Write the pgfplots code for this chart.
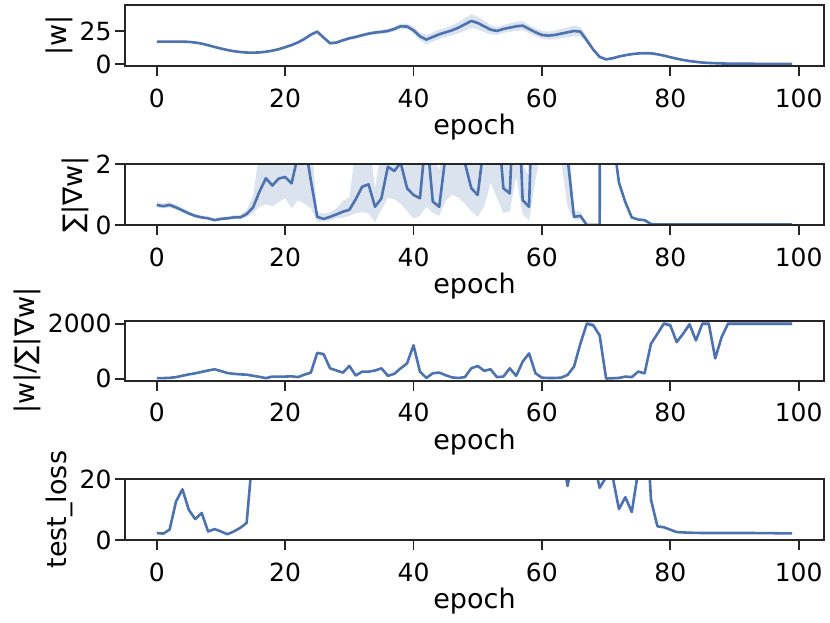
\documentclass[border=0pt]{standalone}
\usepackage{fontspec}
\setmainfont{DejaVu Sans}
\usepackage{pgfplots}
\pgfplotsset{compat=1.18}
\usepackage{pgfplotstable}
\definecolor{sblue}{HTML}{4C72B0}
\definecolor{frame}{HTML}{262626}

\pgfplotstableread{
e v d
0 17.0 0.7
1 17.0 0.7
2 17.0 0.7
3 17.0 0.7
4 17.0 0.7
5 16.8 0.7
6 16.3 0.7
7 15.5 0.7
8 14.3 0.7
9 13.0 0.7
10 11.8 0.7
11 10.7 0.7
12 9.8 0.7
13 9.2 0.7
14 8.8 0.7
15 8.7 0.7
16 8.9 0.7
17 9.4 0.7
18 10.2 0.7
19 11.3 0.8
20 12.8 1.0
21 14.4 1.0
22 16.4 1.0
23 19.0 1.2
24 22.2 1.2
25 24.5 1.2
26 20.0 1.2
27 15.8 1.2
28 16.3 1.2
29 18.0 1.2
30 19.5 1.2
31 20.5 1.3
32 21.8 1.3
33 23.0 1.4
34 23.8 1.5
35 24.3 1.5
36 25.0 1.6
37 26.5 1.8
38 28.5 2.0
39 28.3 2.2
40 25.5 2.5
41 21.0 3.0
42 18.5 3.5
43 20.5 3.5
44 22.5 3.5
45 24.0 3.5
46 25.5 3.8
47 27.5 4.2
48 30.0 4.8
49 32.5 5.0
50 31.0 4.8
51 28.5 4.2
52 26.0 3.5
53 25.0 3.0
54 26.5 3.0
55 27.5 3.2
56 28.5 3.5
57 29.0 3.5
58 26.5 3.2
59 24.0 3.0
60 22.0 3.0
61 21.5 3.0
62 22.0 3.2
63 23.0 3.5
64 24.0 3.8
65 25.0 4.0
66 24.5 3.5
67 18.0 2.5
68 11.0 1.5
69 5.5 1.0
70 3.7 0.8
71 4.5 0.8
72 5.8 0.8
73 6.8 0.8
74 7.6 0.8
75 8.1 0.8
76 8.3 0.8
77 8.2 0.8
78 7.5 0.7
79 6.5 0.6
80 5.3 0.5
81 4.2 0.4
82 3.2 0.4
83 2.4 0.3
84 1.8 0.3
85 1.3 0.3
86 1.0 0.2
87 0.8 0.2
88 0.6 0.2
89 0.5 0.2
90 0.45 0.2
91 0.4 0.2
92 0.38 0.2
93 0.35 0.2
94 0.32 0.2
95 0.3 0.2
96 0.27 0.2
97 0.25 0.2
98 0.22 0.2
99 0.2 0.2
}\sone

\pgfplotstableread{
e v lo hi
0 0.66 0.58 0.76
1 0.62 0.55 0.72
2 0.66 0.58 0.76
3 0.58 0.50 0.66
4 0.48 0.41 0.56
5 0.38 0.32 0.45
6 0.30 0.25 0.36
7 0.25 0.21 0.30
8 0.22 0.18 0.27
9 0.16 0.13 0.21
10 0.20 0.16 0.26
11 0.22 0.17 0.28
12 0.25 0.19 0.32
13 0.25 0.19 0.33
14 0.36 0.26 0.50
15 0.58 0.40 0.95
16 1.10 0.60 2.40
17 1.54 0.68 3.0
18 1.30 0.62 2.8
19 1.53 0.75 3.0
20 1.58 0.88 3.0
21 1.37 0.55 3.0
22 2.30 0.82 4.0
23 2.80 0.70 5.0
24 1.47 0.55 3.0
25 0.27 0.10 0.40
26 0.20 0.12 0.38
27 0.27 0.15 0.42
28 0.35 0.22 0.55
29 0.44 0.25 0.80
30 0.50 0.30 0.90
31 0.85 0.38 2.5
32 1.26 0.42 3.0
33 1.34 0.38 3.0
34 0.60 0.10 1.2
35 0.88 0.50 2.5
36 1.92 0.90 3.0
37 1.78 0.85 3.0
38 2.05 0.70 3.0
39 1.21 0.45 2.8
40 0.99 0.22 2.6
41 0.88 0.30 2.4
42 3.10 0.60 4.0
43 0.77 0.40 2.4
44 0.60 0.30 1.8
45 2.30 0.80 4.0
46 3.0 1.0 4.0
47 3.0 0.9 4.0
48 2.05 0.70 3.5
49 1.21 0.45 3.0
50 0.99 0.27 2.6
51 2.7 0.6 4.0
52 3.0 1.4 4.0
53 3.8 0.9 5.0
54 1.21 0.40 2.4
55 1.04 0.45 2.2
56 6.0 1.6 8.0
57 0.82 0.35 2.0
58 0.60 0.15 1.6
59 7.6 1.5 10
60 8.0 2.5 10
61 8.0 3.0 10
62 8.0 3.0 10
63 2.5 2.1 4.0
64 2.2 0.6 3.5
65 0.27 0.18 0.45
66 0.30 0.18 0.45
67 0.0 0.0 0.02
68 0.0 0.0 0.02
69 0.0 0.0 0.02
70 100 100 100
71 3.0 3.0 3.0
72 1.40 1.35 1.45
73 0.75 0.70 0.80
74 0.25 0.22 0.28
75 0.18 0.16 0.20
76 0.16 0.14 0.18
77 0.03 0.02 0.04
78 0.02 0.01 0.03
79 0.02 0.01 0.03
80 0.02 0.01 0.03
81 0.02 0.01 0.03
82 0.02 0.01 0.03
83 0.02 0.01 0.03
84 0.02 0.01 0.03
85 0.02 0.01 0.03
86 0.02 0.01 0.03
87 0.02 0.01 0.03
88 0.02 0.01 0.03
89 0.02 0.01 0.03
90 0.02 0.01 0.03
91 0.02 0.01 0.03
92 0.02 0.01 0.03
93 0.02 0.01 0.03
94 0.02 0.01 0.03
95 0.02 0.01 0.03
96 0.02 0.01 0.03
97 0.02 0.01 0.03
98 0.02 0.01 0.03
99 0.02 0.01 0.03
}\stwo

\pgfplotstableread{
e v
0 25
1 25
2 35
3 60
4 110
5 160
6 200
7 250
8 300
9 345
10 280
11 210
12 180
13 160
14 150
15 110
16 70
17 25
18 80
19 80
20 80
21 90
22 60
23 150
24 225
25 940
26 890
27 380
28 300
29 225
30 465
31 120
32 260
33 260
34 300
35 380
36 107
37 180
38 380
39 560
40 1215
41 260
42 30
43 200
44 225
45 130
46 50
47 30
48 60
49 380
50 465
51 290
52 345
53 60
54 80
55 380
56 107
57 620
58 920
59 200
60 40
61 30
62 30
63 40
64 140
65 440
66 1275
67 2000
68 1940
69 1570
70 10
71 20
72 30
73 80
74 60
75 260
76 200
77 1275
78 1630
79 2000
80 1940
81 1330
82 1630
83 1975
84 1390
85 2000
86 2000
87 740
88 1510
89 2000
90 2000
91 2000
92 2000
93 2000
94 2000
95 2000
96 2000
97 2000
98 2000
99 2000
}\sthree

\pgfplotstableread{
e v
0 2.3
1 2.1
2 3.4
3 12.7
4 16.7
5 9.9
6 6.9
7 8.9
8 2.8
9 3.6
10 2.8
11 1.9
12 2.8
13 4.0
14 5.6
15 30
16 100
17 100
18 100
19 100
20 100
21 100
22 100
23 100
24 100
25 100
26 100
27 100
28 100
29 100
30 100
31 100
32 100
33 100
34 100
35 100
36 100
37 100
38 100
39 100
40 100
41 100
42 100
43 100
44 100
45 100
46 100
47 100
48 100
49 100
50 100
51 100
52 100
53 100
54 100
55 100
56 100
57 100
58 100
59 100
60 100
61 100
62 100
63 30
64 17.8
65 29
66 60
67 60
68 26.5
69 17.2
70 20.7
71 21.1
72 10.2
73 14.1
74 9.2
75 22.7
76 50
77 13.2
78 4.5
79 4.2
80 3.4
81 2.6
82 2.5
83 2.4
84 2.35
85 2.3
86 2.3
87 2.3
88 2.3
89 2.3
90 2.3
91 2.3
92 2.3
93 2.3
94 2.25
95 2.25
96 2.25
97 2.2
98 2.2
99 2.2
}\sfour

\pgfplotsset{
  panel/.style={
    width=699bp, height=61bp, scale only axis,
    anchor=south west,
    xmin=-4.95, xmax=103.95,
    xtick={0,20,40,60,80,100},
    xlabel={epoch},
    xtick pos=bottom, ytick pos=left,
    tick align=outside,
    major tick length=10bp,
    xticklabel shift=9bp,
    every tick/.style={line width=1.9bp, color=frame},
    axis line style={line width=1.9bp, color=frame},
    tick label style={font=\fontsize{25bp}{30bp}\selectfont, text=black},
    label style={font=\fontsize{27bp}{32bp}\selectfont, text=black},
    /pgf/number format/assume math mode=true,
    /pgf/number format/1000 sep={},
    scaled ticks=false,
    axis on top,
  },
  dataline/.style={color=sblue, line width=2.6bp, line join=round, stack plots=false},
  band/.style={fill=sblue, fill opacity=0.2, draw=none},
}

\begin{document}
\begin{tikzpicture}
\path (0,0) rectangle (830bp,623bp);

\begin{axis}[panel, at={(125bp,557bp)}, ymin=-1.3, ymax=44.5, ytick={0,25}, ylabel={|w|}]
\addplot[draw=none, stack plots=y, forget plot] table[x=e, y expr=\thisrow{v}-\thisrow{d}] {\sone};
\addplot[band, stack plots=y] table[x=e, y expr=2*\thisrow{d}] {\sone} \closedcycle;
\addplot[dataline] table[x=e, y=v] {\sone};
\end{axis}

\begin{axis}[panel, at={(125bp,398bp)}, height=60.7bp, ymin=0, ymax=2, ytick={0,2}, ylabel={∑|∇w|}]
\addplot[draw=none, stack plots=y, forget plot] table[x=e, y=lo] {\stwo};
\addplot[band, stack plots=y] table[x=e, y expr=\thisrow{hi}-\thisrow{lo}] {\stwo} \closedcycle;
\addplot[dataline] table[x=e, y=v] {\stwo};
\end{axis}

\begin{axis}[panel, at={(125bp,242.3bp)}, height=60bp, ymin=-69, ymax=2105, ytick={0,2000}, ylabel={|w|/∑|∇w|}]
\addplot[draw=none, stack plots=y, forget plot] table[x=e, y expr=\thisrow{v}*0.96-8] {\sthree};
\addplot[band, stack plots=y] table[x=e, y expr=\thisrow{v}*0.08+16] {\sthree} \closedcycle;
\addplot[dataline] table[x=e, y=v] {\sthree};
\end{axis}

\begin{axis}[panel, at={(125bp,83bp)}, height=60.7bp, ymin=0, ymax=20, ytick={0,20}, ylabel={test\_loss}]
\addplot[dataline] table[x=e, y=v] {\sfour};
\end{axis}
\end{tikzpicture}
\end{document}
